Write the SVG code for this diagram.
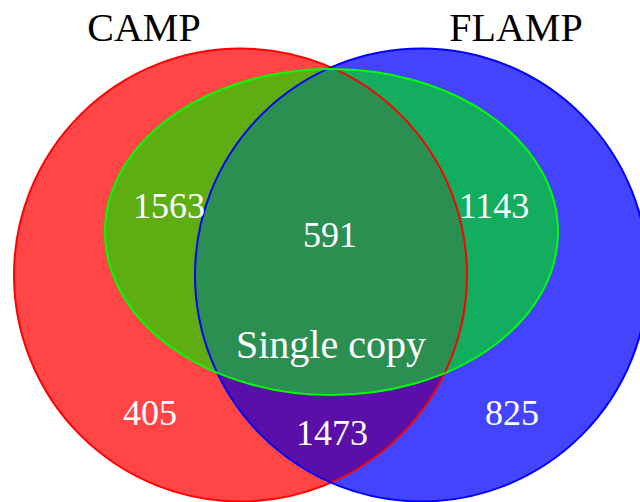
<svg xmlns="http://www.w3.org/2000/svg" width="640" height="502" viewBox="0 0 640 502">
<defs>
<clipPath id="cRed"><circle cx="240.5" cy="275" r="226.5"/></clipPath>
<clipPath id="cBlue"><circle cx="421.5" cy="275" r="226.5"/></clipPath>
<style>
.lbl{font-family:"Liberation Serif","Times New Roman",serif;fill:#fff;text-anchor:middle}
.ttl{font-family:"Liberation Serif","Times New Roman",serif;fill:#000;text-anchor:middle;font-size:40px}
</style>
</defs>
<rect width="640" height="502" fill="#fff"/>
<g id="camp">
<circle cx="240.5" cy="275" r="226.5" fill="#FF4545"/>
</g>
<g id="flamp">
<circle cx="421.5" cy="275" r="226.5" fill="#4444FF"/>
</g>
<g id="regions">
<circle cx="421.5" cy="275" r="226.5" fill="#5A10A8" clip-path="url(#cRed)"/>
<ellipse cx="331.5" cy="232" rx="226.5" ry="163" fill="#5EAD12" clip-path="url(#cRed)"/>
<ellipse cx="331.5" cy="232" rx="226.5" ry="163" fill="#12AD5F" clip-path="url(#cBlue)"/>
<g clip-path="url(#cBlue)"><ellipse cx="331.5" cy="232" rx="226.5" ry="163" fill="#2A8F50" clip-path="url(#cRed)"/></g>
</g>
<g id="outlines" fill="none" stroke-width="2">
<circle cx="240.5" cy="275" r="226.5" stroke="#FF0000"/>
<circle cx="421.5" cy="275" r="226.5" stroke="#0000FF"/>
<g id="single_copy"><ellipse cx="331.5" cy="232" rx="226.5" ry="163" stroke="#00FF00"/></g>
</g>
<text class="ttl" x="144" y="41">CAMP</text>
<text class="ttl" x="516" y="41">FLAMP</text>
<text class="lbl" font-size="36" x="169" y="218">1563</text>
<text class="lbl" font-size="36" x="330" y="247">591</text>
<text class="lbl" font-size="36" x="494" y="218">1143</text>
<text class="lbl" font-size="40" x="331" y="358">Single copy</text>
<text class="lbl" font-size="36" x="150" y="425">405</text>
<text class="lbl" font-size="36" x="512" y="425">825</text>
<text class="lbl" font-size="36" x="332" y="445">1473</text>
</svg>
